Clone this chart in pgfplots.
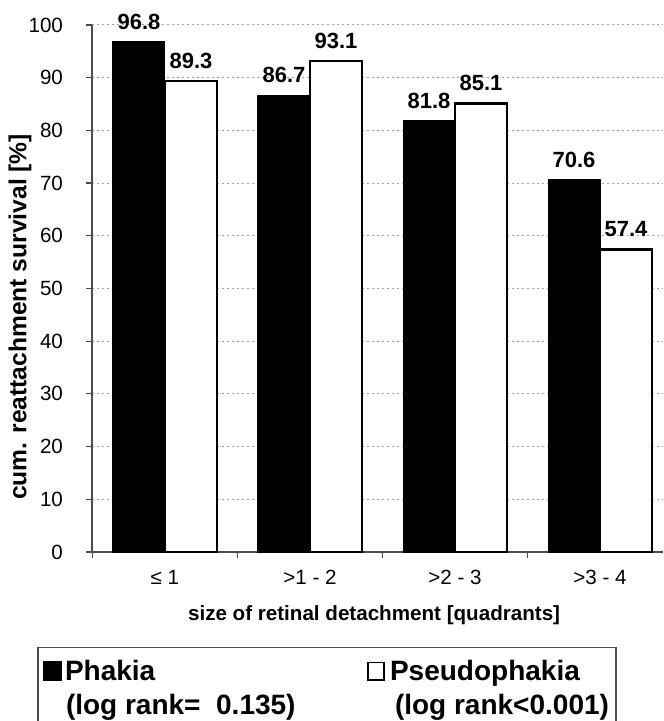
\documentclass[border=0pt]{standalone}
\usepackage{fontspec}
\setmainfont{Liberation Sans}
\usepackage{pgfplots}
\pgfplotsset{compat=1.18}
\begin{document}
\begin{tikzpicture}
\path[use as bounding box] (-46pt,-84.5pt) rectangle (285.5pt,276pt);
\clip (-46pt,-84.5pt) rectangle (285.5pt,276pt);
\begin{axis}[
  at={(0pt,0pt)}, anchor=south west,
  scale only axis, width=285.5pt, height=263.5pt,
  xmin=-0.503, xmax=3.434, ymin=0, ymax=100,
  enlargelimits=false,
  ybar=0pt, bar width=26pt,
  axis x line*=bottom, axis y line*=left,
  axis line style={gray!60!black, line width=0.6pt, -},
  ytick={0,10,...,100},
  ymajorgrids,
  grid style={gray!75, line width=0.5pt, dash pattern=on 1pt off 1.5pt},
  xtick={-0.5,0.5,1.5,2.5}, xticklabels={},
  extra x ticks={0,1,2,3},
  extra x tick labels={≤ 1, >1 - 2, >2 - 3, >3 - 4},
  extra x tick style={major tick length=0pt, xticklabel style={yshift=-5.5pt}},
  tick align=outside, major tick length=3pt,
  tick style={gray!60!black, line width=0.6pt},
  /pgf/number format/assume math mode=true,
  ticklabel style={font=\fontsize{10.3}{12}\selectfont},
  yticklabel style={xshift=-8pt},
  xlabel={size of retinal detachment [quadrants]},
  xlabel style={at={(axis description cs:0.494,-0.119)}, anchor=center, font=\bfseries\fontsize{10.3}{12}\selectfont},
  ylabel={cum. reattachment survival [\%]},
  ylabel style={at={(axis description cs:-0.126,0.446)}, anchor=center, font=\bfseries\fontsize{12.3}{14}\selectfont},
  nodes near coords={\pgfmathprintnumber[fixed,fixed zerofill,precision=1,assume math mode=true]{\pgfplotspointmeta}},
  nodes near coords style={font=\bfseries\fontsize{11}{13}\selectfont, yshift=2.6pt, text=black},
  legend style={
    at={(axis description cs:-0.0963,-0.180)}, anchor=north west,
    draw=gray!60!black, line width=0.8pt,
    inner xsep=2.5pt, inner ysep=3.6pt,
    font=\bfseries\fontsize{14}{17}\selectfont,
    cells={anchor=base west},
    nodes={inner sep=1pt, text depth=},
  },
  legend columns=2,
]
\addplot[fill=black, draw=black, line width=0.5pt,
  legend image code/.code={\draw[fill=black, draw=black, line width=0.6pt] (0pt,0pt) rectangle (9pt,9.5pt);}]
  coordinates {(0,96.8) (1,86.7) (2,81.8) (3,70.6)};
\addlegendentry{\begin{tabular}[t]{@{}l@{}}\makebox[150.5pt][l]{\hspace{0.5pt}Phakia}\\\hspace{1pt}(log rank=\ \ 0.135)\end{tabular}}
\addplot[fill=white, draw=black, line width=1.1pt,
  legend image code/.code={\draw[fill=white, draw=black, line width=0.8pt] (0.4pt,0.4pt) rectangle (8.6pt,9.1pt);}]
  coordinates {(0,89.3) (1,93.1) (2,85.1) (3,57.4)};
\addlegendentry{\begin{tabular}[t]{@{}l@{}}\makebox[108.5pt][l]{\hspace{1.5pt}Pseudophakia}\\\hspace{4pt}(log rank<0.001)\rule[-8pt]{0pt}{0pt}\end{tabular}}
\end{axis}
\end{tikzpicture}
\end{document}
